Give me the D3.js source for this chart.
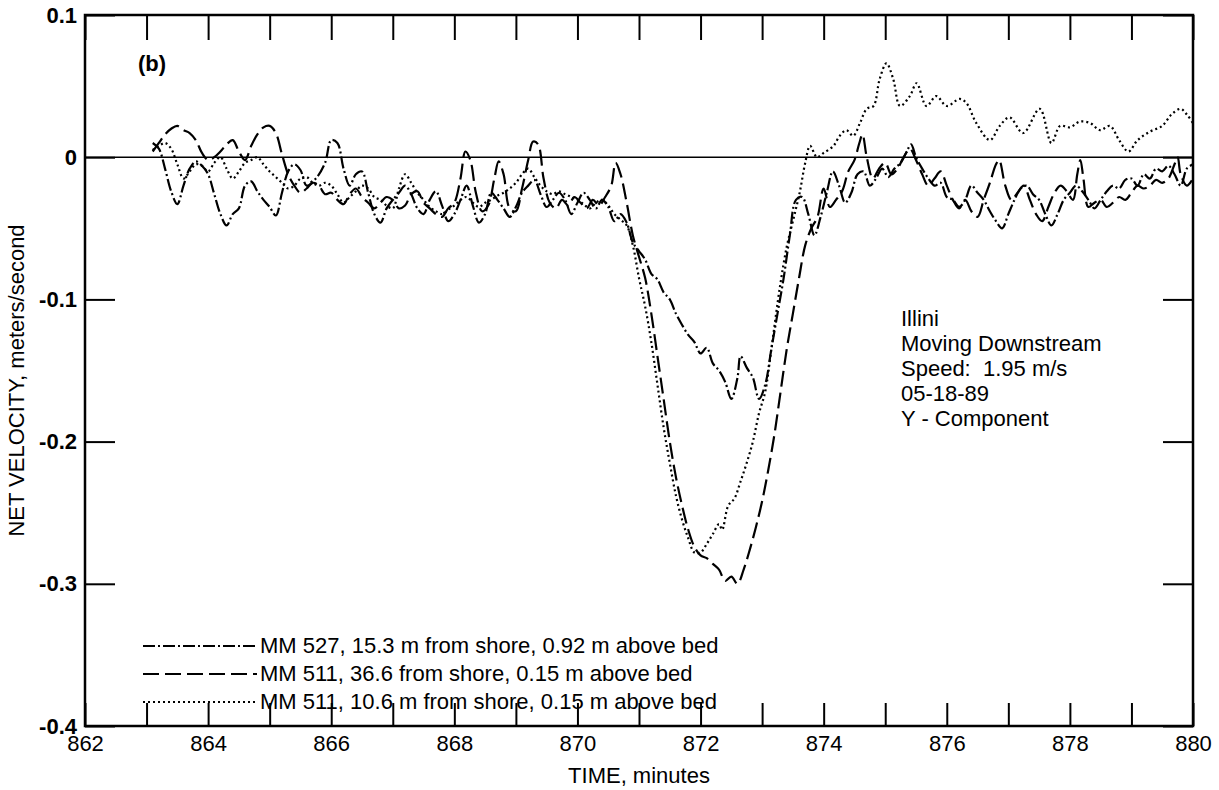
<!DOCTYPE html>
<html>
<head>
<meta charset="utf-8">
<script src="https://d3js.org/d3.v7.min.js"></script>
<style>
  body { margin: 0; background: #fff; }
  text { font-family: "Liberation Sans", Arial, Helvetica, sans-serif; fill: #000; }
</style>
</head>
<body>
<script>
  // chart values
  var xTicks = d3.range(862, 881, 1);
  var xLabels = [862, 864, 866, 868, 870, 872, 874, 876, 878, 880];
  var yTicks = [0.1, 0, -0.1, -0.2, -0.3, -0.4];

  var annotation = ["Illini", "Moving Downstream", "Speed:  1.95 m/s", "05-18-89", "Y - Component"];
  var seriesNames = [
    "MM 527, 15.3 m from shore, 0.92 m above bed",
    "MM 511, 36.6 from shore, 0.15 m above bed",
    "MM 511, 10.6 m from shore, 0.15 m above bed"
  ];

  // MM 527 (dash-dot)
  var mm527 = [[863.1,0.01],[863.2,0.006],[863.3,-0.008],[863.4,-0.024],[863.5,-0.033],[863.6,-0.02],[863.7,-0.008],[863.8,-0.003],[863.9,-0.006],[864.0,-0.012],[864.1,-0.026],[864.2,-0.04],[864.3,-0.048],[864.4,-0.04],[864.5,-0.036],[864.6,-0.02],[864.7,-0.017],[864.8,-0.024],[864.9,-0.03],[865.0,-0.035],[865.1,-0.041],[865.2,-0.025],[865.3,-0.01],[865.4,-0.005],[865.5,-0.009],[865.6,-0.02],[865.75,-0.015],[865.9,-0.004],[866.0,0.012],[866.1,0.01],[866.2,-0.008],[866.3,-0.02],[866.4,-0.012],[866.5,-0.01],[866.6,-0.025],[866.7,-0.04],[866.8,-0.046],[866.9,-0.036],[867.0,-0.03],[867.1,-0.025],[867.2,-0.02],[867.3,-0.026],[867.4,-0.036],[867.5,-0.04],[867.6,-0.03],[867.7,-0.024],[867.8,-0.034],[867.9,-0.045],[868.0,-0.04],[868.1,-0.03],[868.2,-0.02],[868.3,-0.034],[868.4,-0.046],[868.5,-0.04],[868.6,-0.025],[868.7,-0.03],[868.8,-0.036],[868.9,-0.042],[869.0,-0.035],[869.1,-0.025],[869.2,-0.02],[869.3,-0.016],[869.4,-0.026],[869.5,-0.035],[869.6,-0.03],[869.7,-0.025],[869.8,-0.03],[869.9,-0.04],[870.0,-0.032],[870.1,-0.025],[870.2,-0.03],[870.3,-0.036],[870.4,-0.03],[870.5,-0.035],[870.6,-0.045],[870.7,-0.04],[870.8,-0.046],[870.9,-0.06],[871.0,-0.066],[871.1,-0.072],[871.2,-0.082],[871.3,-0.086],[871.4,-0.095],[871.5,-0.1],[871.6,-0.11],[871.7,-0.118],[871.8,-0.125],[871.9,-0.13],[872.0,-0.138],[872.1,-0.134],[872.2,-0.145],[872.3,-0.15],[872.4,-0.158],[872.5,-0.17],[872.6,-0.155],[872.65,-0.14],[872.75,-0.148],[872.85,-0.155],[872.95,-0.17],[873.05,-0.16],[873.15,-0.135],[873.25,-0.11],[873.35,-0.085],[873.45,-0.055],[873.55,-0.03],[873.65,-0.028],[873.75,-0.04],[873.85,-0.055],[873.95,-0.042],[874.05,-0.025],[874.15,-0.01],[874.25,-0.02],[874.35,-0.032],[874.45,-0.025],[874.55,-0.012],[874.65,-0.01],[874.75,-0.02],[874.85,-0.015],[874.95,-0.008],[875.05,-0.014],[875.15,-0.008],[875.25,-0.004],[875.35,0.004],[875.42,0.009],[875.5,0.0],[875.6,-0.008],[875.7,-0.015],[875.8,-0.02],[875.9,-0.018],[876.0,-0.028],[876.1,-0.03],[876.2,-0.035],[876.3,-0.03],[876.4,-0.02],[876.5,-0.025],[876.6,-0.03],[876.7,-0.038],[876.8,-0.045],[876.9,-0.05],[877.0,-0.04],[877.1,-0.03],[877.2,-0.022],[877.3,-0.02],[877.4,-0.026],[877.5,-0.03],[877.6,-0.04],[877.7,-0.048],[877.8,-0.04],[877.9,-0.03],[878.0,-0.025],[878.1,-0.02],[878.2,-0.024],[878.3,-0.03],[878.4,-0.036],[878.5,-0.03],[878.6,-0.024],[878.7,-0.02],[878.8,-0.022],[878.9,-0.016],[879.0,-0.015],[879.1,-0.02],[879.2,-0.012],[879.3,-0.015],[879.4,-0.008],[879.5,-0.01],[879.6,-0.006],[879.7,-0.012],[879.8,-0.02],[879.9,-0.008],[880.0,-0.005]];

  // MM 511, 36.6 m (long dash)
  var mm511far = [[863.1,0.004],[863.2,0.01],[863.3,0.016],[863.4,0.02],[863.5,0.022],[863.6,0.019],[863.7,0.017],[863.8,0.012],[863.9,0.003],[864.0,-0.002],[864.1,0.0],[864.2,0.004],[864.3,0.009],[864.4,0.012],[864.5,0.004],[864.6,-0.002],[864.7,0.008],[864.8,0.016],[864.9,0.021],[865.0,0.022],[865.1,0.017],[865.2,0.002],[865.3,-0.012],[865.4,-0.02],[865.5,-0.025],[865.6,-0.022],[865.7,-0.018],[865.8,-0.02],[865.9,-0.026],[866.0,-0.025],[866.1,-0.03],[866.2,-0.033],[866.3,-0.026],[866.4,-0.022],[866.5,-0.028],[866.6,-0.032],[866.7,-0.036],[866.8,-0.032],[866.9,-0.028],[867.0,-0.03],[867.1,-0.036],[867.2,-0.034],[867.3,-0.026],[867.4,-0.024],[867.5,-0.032],[867.6,-0.036],[867.7,-0.04],[867.8,-0.042],[867.9,-0.036],[868.0,-0.032],[868.1,-0.015],[868.18,0.004],[868.26,-0.002],[868.35,-0.025],[868.45,-0.038],[868.55,-0.034],[868.65,-0.015],[868.72,-0.003],[868.8,-0.012],[868.9,-0.036],[869.0,-0.038],[869.1,-0.022],[869.2,-0.002],[869.28,0.011],[869.36,0.009],[869.45,-0.015],[869.55,-0.032],[869.65,-0.036],[869.75,-0.03],[869.85,-0.034],[869.95,-0.028],[870.05,-0.032],[870.15,-0.036],[870.25,-0.03],[870.35,-0.034],[870.45,-0.028],[870.55,-0.02],[870.62,-0.004],[870.7,-0.012],[870.8,-0.032],[870.9,-0.055],[871.0,-0.07],[871.1,-0.085],[871.2,-0.11],[871.3,-0.14],[871.4,-0.17],[871.5,-0.2],[871.6,-0.225],[871.7,-0.245],[871.8,-0.262],[871.9,-0.274],[872.0,-0.28],[872.1,-0.282],[872.2,-0.286],[872.3,-0.29],[872.4,-0.298],[872.5,-0.295],[872.6,-0.3],[872.7,-0.29],[872.8,-0.276],[872.9,-0.26],[873.0,-0.242],[873.1,-0.22],[873.2,-0.195],[873.3,-0.165],[873.4,-0.135],[873.5,-0.11],[873.6,-0.085],[873.7,-0.062],[873.8,-0.05],[873.9,-0.042],[874.0,-0.022],[874.1,-0.035],[874.2,-0.03],[874.3,-0.024],[874.4,-0.01],[874.5,-0.002],[874.58,0.01],[874.63,0.016],[874.7,0.0],[874.8,-0.015],[874.9,-0.008],[875.0,-0.004],[875.1,-0.012],[875.2,-0.008],[875.3,0.0],[875.4,0.006],[875.5,-0.002],[875.6,-0.012],[875.7,-0.02],[875.8,-0.015],[875.9,-0.01],[876.0,-0.02],[876.1,-0.03],[876.2,-0.036],[876.3,-0.03],[876.4,-0.038],[876.5,-0.042],[876.6,-0.03],[876.7,-0.018],[876.8,-0.005],[876.85,-0.002],[876.95,-0.02],[877.05,-0.03],[877.15,-0.025],[877.25,-0.02],[877.35,-0.03],[877.45,-0.04],[877.55,-0.045],[877.65,-0.035],[877.75,-0.025],[877.85,-0.02],[877.95,-0.024],[878.05,-0.03],[878.12,-0.012],[878.17,-0.002],[878.22,-0.015],[878.3,-0.035],[878.4,-0.032],[878.5,-0.03],[878.6,-0.035],[878.7,-0.032],[878.8,-0.028],[878.9,-0.03],[879.0,-0.025],[879.1,-0.02],[879.2,-0.022],[879.3,-0.02],[879.4,-0.016],[879.5,-0.018],[879.6,-0.015],[879.7,-0.005],[879.75,0.0],[879.8,-0.012],[879.9,-0.02],[880.0,-0.015]];

  // MM 511, 10.6 m (dotted)
  var mm511near = [[863.1,0.005],[863.2,0.008],[863.3,0.01],[863.4,0.006],[863.5,-0.005],[863.6,-0.015],[863.7,-0.01],[863.8,-0.005],[863.9,-0.006],[864.0,-0.01],[864.1,-0.004],[864.2,0.0],[864.3,-0.008],[864.4,-0.015],[864.5,-0.01],[864.6,-0.004],[864.7,-0.002],[864.8,0.0],[864.9,-0.005],[865.0,-0.01],[865.1,-0.014],[865.2,-0.018],[865.3,-0.022],[865.4,-0.02],[865.5,-0.015],[865.6,-0.014],[865.7,-0.018],[865.8,-0.02],[865.9,-0.018],[866.0,-0.02],[866.1,-0.026],[866.2,-0.032],[866.3,-0.028],[866.4,-0.024],[866.5,-0.02],[866.6,-0.022],[866.7,-0.028],[866.8,-0.03],[866.9,-0.034],[867.0,-0.036],[867.1,-0.022],[867.2,-0.012],[867.3,-0.018],[867.4,-0.025],[867.5,-0.03],[867.6,-0.035],[867.7,-0.038],[867.8,-0.04],[867.9,-0.037],[868.0,-0.034],[868.1,-0.03],[868.2,-0.028],[868.3,-0.032],[868.4,-0.035],[868.5,-0.032],[868.6,-0.03],[868.7,-0.027],[868.8,-0.025],[868.9,-0.022],[869.0,-0.018],[869.1,-0.012],[869.2,-0.008],[869.3,-0.014],[869.4,-0.02],[869.5,-0.024],[869.6,-0.026],[869.7,-0.024],[869.8,-0.026],[869.9,-0.028],[870.0,-0.03],[870.1,-0.033],[870.2,-0.036],[870.3,-0.032],[870.4,-0.03],[870.5,-0.034],[870.6,-0.04],[870.7,-0.044],[870.8,-0.048],[870.9,-0.062],[871.0,-0.085],[871.1,-0.105],[871.2,-0.13],[871.3,-0.16],[871.4,-0.19],[871.5,-0.215],[871.6,-0.238],[871.7,-0.255],[871.8,-0.268],[871.9,-0.278],[872.0,-0.278],[872.1,-0.272],[872.2,-0.265],[872.3,-0.258],[872.35,-0.262],[872.45,-0.245],[872.55,-0.24],[872.65,-0.228],[872.75,-0.215],[872.85,-0.2],[872.95,-0.18],[873.05,-0.165],[873.15,-0.135],[873.29,-0.091],[873.4,-0.063],[873.5,-0.045],[873.61,-0.025],[873.7,-0.004],[873.78,0.008],[873.89,0.0],[874.0,0.003],[874.16,0.008],[874.26,0.015],[874.37,0.019],[874.48,0.015],[874.59,0.024],[874.7,0.034],[874.81,0.036],[874.91,0.055],[875.02,0.066],[875.13,0.055],[875.24,0.036],[875.4,0.043],[875.51,0.052],[875.67,0.036],[875.83,0.043],[876.0,0.036],[876.21,0.041],[876.32,0.038],[876.48,0.024],[876.7,0.012],[876.86,0.022],[877.02,0.028],[877.24,0.017],[877.51,0.034],[877.7,0.01],[877.84,0.022],[878.0,0.021],[878.16,0.025],[878.33,0.024],[878.49,0.019],[878.65,0.022],[878.8,0.012],[878.95,0.004],[879.1,0.012],[879.3,0.018],[879.5,0.022],[879.65,0.03],[879.8,0.034],[879.9,0.03],[880.0,0.024]];

  var allSeries = [mm527, mm511far, mm511near];
  var dashes = ["12,3,2,3", "16,6", "2,3"];

  var width = 1219, height = 790;
  var plotLeft = 85, plotRight = 1193, plotTop = 15, plotBottom = 726;

  var svg = d3.select("body").append("svg")
    .attr("width", width)
    .attr("height", height);

  var x = d3.scaleLinear().domain([862, 880]).range([plotLeft, plotRight]);
  var y = d3.scaleLinear().domain([-0.4, 0.1]).range([plotBottom, plotTop]);

  // ticks pointing into the plot
  var bottomAxis = svg.append("g")
    .attr("transform", "translate(0," + plotBottom + ")")
    .call(d3.axisBottom(x).tickValues(xTicks).tickSizeInner(-23).tickSizeOuter(0).tickPadding(8)
      .tickFormat(function(d) { return xLabels.indexOf(d) >= 0 ? d : ""; }));
  var topAxis = svg.append("g")
    .attr("transform", "translate(0," + plotTop + ")")
    .call(d3.axisTop(x).tickValues(xTicks).tickSizeInner(-25).tickSizeOuter(0).tickFormat(""));
  var leftAxis = svg.append("g")
    .attr("transform", "translate(" + plotLeft + ",0)")
    .call(d3.axisLeft(y).tickValues(yTicks).tickSizeInner(-30).tickSizeOuter(0).tickPadding(8)
      .tickFormat(function(d) { return d === 0 ? "0" : d.toFixed(1); }));
  var rightAxis = svg.append("g")
    .attr("transform", "translate(" + plotRight + ",0)")
    .call(d3.axisRight(y).tickValues(yTicks).tickSizeInner(-30).tickSizeOuter(0).tickFormat(""));

  svg.selectAll(".domain").remove();
  svg.selectAll(".tick line").attr("stroke", "#000").attr("stroke-width", 2);
  bottomAxis.selectAll("text").style("font-size", "22px").attr("dy", "0.75em");
  leftAxis.selectAll("text").style("font-size", "22px").style("font-weight", "bold");

  // frame
  svg.append("rect")
    .attr("x", plotLeft).attr("y", plotTop)
    .attr("width", plotRight - plotLeft).attr("height", plotBottom - plotTop)
    .attr("fill", "none").attr("stroke", "#000").attr("stroke-width", 2.5);

  // zero line
  svg.append("line")
    .attr("x1", plotLeft).attr("x2", plotRight)
    .attr("y1", y(0)).attr("y2", y(0))
    .attr("stroke", "#000").attr("stroke-width", 1.6);

  var line = d3.line()
    .x(function(d) { return x(d[0]); })
    .y(function(d) { return y(d[1]); })
    .curve(d3.curveCatmullRom);

  svg.selectAll(".series")
    .data(allSeries)
    .enter().append("path")
    .attr("class", "series")
    .attr("d", line)
    .attr("fill", "none")
    .attr("stroke", "#000")
    .attr("stroke-width", 2.2)
    .attr("stroke-dasharray", function(d, i) { return dashes[i]; });

  // panel letter
  svg.append("text")
    .attr("x", 138).attr("y", 71)
    .style("font-size", "22px").style("font-weight", "bold")
    .text("(b)");

  // annotation block
  svg.append("g").selectAll("text")
    .data(annotation)
    .enter().append("text")
    .attr("x", 901)
    .attr("y", function(d, i) { return 326 + i * 25; })
    .style("font-size", "22px")
    .style("white-space", "pre")
    .text(function(d) { return d; });

  // legend
  var legend = svg.append("g");
  seriesNames.forEach(function(name, i) {
    var ly = 646 + i * 28;
    legend.append("line")
      .attr("x1", 143).attr("x2", 257)
      .attr("y1", ly).attr("y2", ly)
      .attr("stroke", "#000").attr("stroke-width", 2)
      .attr("stroke-dasharray", dashes[i]);
    legend.append("text")
      .attr("x", 260).attr("y", ly + 7)
      .style("font-size", "22px")
      .text(name);
  });

  // axis titles
  svg.append("text")
    .attr("x", (plotLeft + plotRight) / 2).attr("y", 783)
    .attr("text-anchor", "middle")
    .style("font-size", "22px")
    .text("TIME, minutes");

  svg.append("text")
    .attr("transform", "translate(24," + ((plotTop + plotBottom) / 2 + 10) + ") rotate(-90)")
    .attr("text-anchor", "middle")
    .style("font-size", "22px")
    .text("NET VELOCITY, meters/second");
</script>
</body>
</html>
